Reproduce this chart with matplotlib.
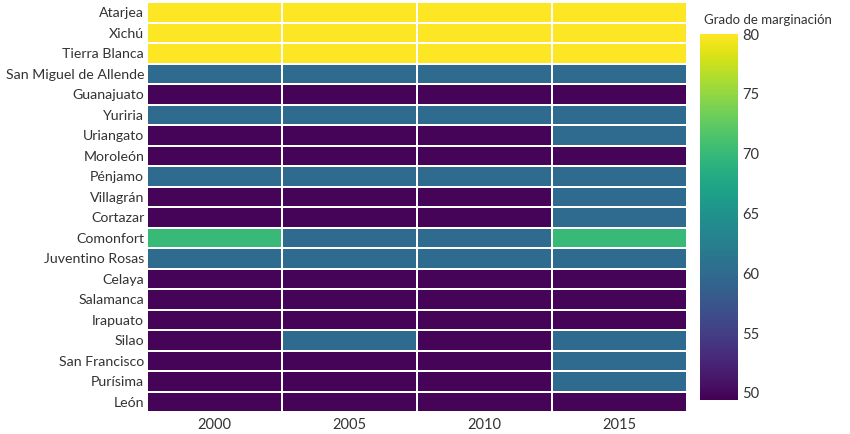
import numpy as np
import matplotlib
matplotlib.use('Agg')
from matplotlib import pyplot as plt

plt.rcParams['font.family'] = ['Lato', 'DejaVu Sans']

municipios = ['Atarjea', 'Xichú', 'Tierra Blanca', 'San Miguel de Allende', 'Guanajuato',
              'Yuriria', 'Uriangato', 'Moroleón', 'Pénjamo', 'Villagrán', 'Cortazar',
              'Comonfort', 'Juventino Rosas', 'Celaya', 'Salamanca', 'Irapuato', 'Silao',
              'San Francisco', 'Purísima', 'León']
anios = ['2000', '2005', '2010', '2015']

# grado de marginación (muy alto=80, alto=70, medio=60, bajo=49.7)
valores = [
    [80, 80, 80, 80],
    [80, 80, 80, 80],
    [80, 80, 80, 80],
    [60, 60, 60, 60],
    [49.7, 49.7, 49.7, 49.7],
    [60, 60, 60, 60],
    [49.7, 49.7, 49.7, 60],
    [49.7, 49.7, 49.7, 49.7],
    [60, 60, 60, 60],
    [49.7, 49.7, 49.7, 60],
    [49.7, 49.7, 49.7, 60],
    [70, 60, 60, 70],
    [60, 60, 60, 60],
    [49.7, 49.7, 49.7, 49.7],
    [49.7, 49.7, 49.7, 49.7],
    [49.7, 49.7, 49.7, 49.7],
    [49.7, 60, 49.7, 60],
    [49.7, 49.7, 49.7, 60],
    [49.7, 49.7, 49.7, 60],
    [49.7, 49.7, 49.7, 49.7],
]
datos = np.array(valores)

fig = plt.figure(figsize=(8.5, 4.34), dpi=100)
ax = fig.add_axes([147/850, 22/434, 540/850, 410/434])
cax = fig.add_axes([700/850, 34/434, 38/850, 366/434])

malla = ax.pcolormesh(datos, cmap='viridis', vmin=49.4, vmax=80,
                      edgecolors='white', linewidth=1.2)
ax.set_xlim(0, len(anios))
ax.set_ylim(len(municipios), 0)
ax.set_xticks(np.arange(len(anios)) + 0.5)
ax.set_xticklabels(anios)
ax.set_yticks(np.arange(len(municipios)) + 0.5)
ax.set_yticklabels(municipios)
ax.tick_params(length=0, labelsize=10.5, colors='#333333', pad=4)
ax.tick_params(axis='y', labelsize=10.2, pad=2)
for s in ax.spines.values():
    s.set_visible(False)

cb = fig.colorbar(malla, cax=cax)
cb.outline.set_visible(False)
cb.set_ticks([50, 55, 60, 65, 70, 75, 80])
cb.ax.tick_params(length=0, labelsize=10.5, colors='#333333', pad=3)
fig.text(768/850, 1 - 20/434, 'Grado de marginación', ha='center', va='center',
         fontsize=9.5, color='#333333')

fig.savefig('out.png', dpi=100)
